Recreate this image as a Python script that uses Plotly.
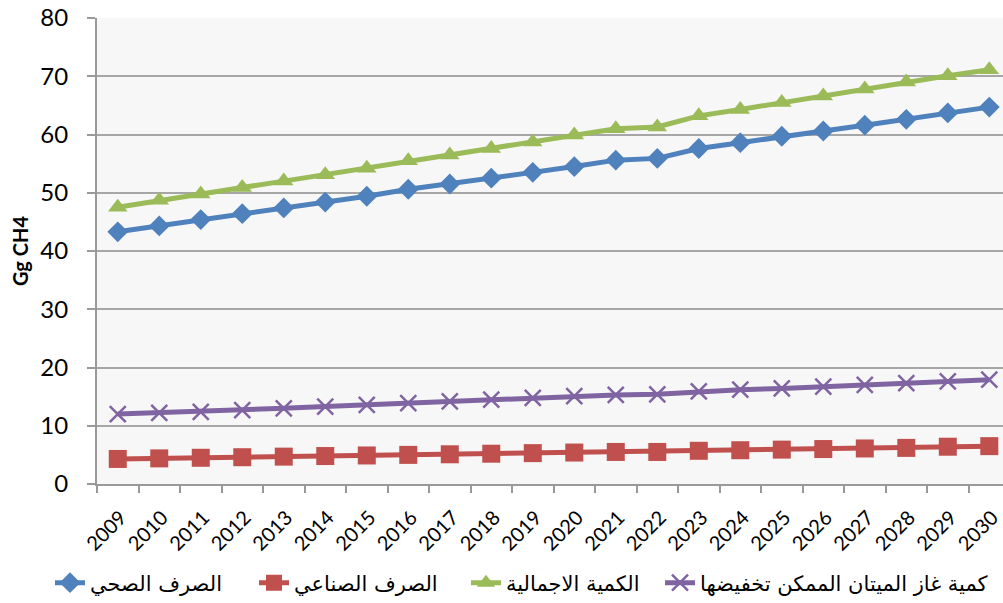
import plotly.graph_objects as go

years = [str(y) for y in range(2009, 2031)]
sanitation = [43.3, 44.3, 45.4, 46.4, 47.4, 48.4, 49.4, 50.6, 51.5, 52.5, 53.5,
              54.5, 55.6, 55.9, 57.6, 58.6, 59.7, 60.6, 61.6, 62.6, 63.7, 64.7]
industrial = [4.3, 4.4, 4.5, 4.6, 4.7, 4.8, 4.9, 5.0, 5.1, 5.2, 5.3,
              5.4, 5.5, 5.5, 5.7, 5.8, 5.9, 6.0, 6.1, 6.2, 6.4, 6.5]
total = [47.5, 48.7, 49.8, 50.9, 52.0, 53.1, 54.2, 55.5, 56.5, 57.6, 58.7,
         59.9, 61.0, 61.3, 63.2, 64.3, 65.5, 66.6, 67.8, 69.0, 70.1, 71.1]
reducible = [12.0, 12.2, 12.4, 12.7, 13.0, 13.3, 13.6, 13.9, 14.2, 14.5, 14.8,
             15.1, 15.3, 15.4, 15.9, 16.2, 16.4, 16.7, 17.0, 17.3, 17.6, 17.9]

names = ["الصرف الصحي", "الصرف الصناعي", "الكمية الاجمالية", "كمية غاز الميتان الممكن تخفيضها"]

fig = go.Figure()
fig.add_trace(go.Scatter(x=years, y=sanitation, name=names[0], mode="lines+markers",
                         legend="legend",
                         line=dict(color="#4f81bd", width=5),
                         marker=dict(symbol="diamond", size=16, color="#4f81bd")))
fig.add_trace(go.Scatter(x=years, y=industrial, name=names[1], mode="lines+markers",
                         legend="legend2",
                         line=dict(color="#c0504d", width=5),
                         marker=dict(symbol="square", size=18, color="#c0504d")))
fig.add_trace(go.Scatter(x=years, y=total, name=names[2], mode="lines+markers",
                         legend="legend3",
                         line=dict(color="#9bbb59", width=5),
                         marker=dict(symbol="triangle-up", size=17, color="#9bbb59")))
fig.add_trace(go.Scatter(x=years, y=reducible, name=names[3], mode="lines+markers",
                         legend="legend4",
                         line=dict(color="#8064a2", width=5),
                         marker=dict(symbol="x-thin", size=16, color="#8064a2",
                                     line=dict(color="#8064a2", width=2.5))))

W, H = 1003, 603
leg_common = dict(orientation="h", xref="container", yref="container",
                  xanchor="left", yanchor="middle", y=1 - 583 / H,
                  font=dict(family="DejaVu Sans", size=21),
                  bgcolor="rgba(0,0,0,0)")
leg_x = [50, 254, 466, 660]

fig.update_layout(
    width=W, height=H,
    margin=dict(l=97, r=0, t=18, b=119),
    paper_bgcolor="white", plot_bgcolor="#f7f7f7",
    font=dict(family="Lato", color="black"),
    showlegend=True,
    legend=dict(leg_common, x=leg_x[0] / W),
    legend2=dict(leg_common, x=leg_x[1] / W),
    legend3=dict(leg_common, x=leg_x[2] / W),
    legend4=dict(leg_common, x=leg_x[3] / W),
)
fig.update_xaxes(type="category", range=[-0.5, 21.33], tickson="boundaries",
                 ticks="outside", ticklen=7, tickcolor="#999999", tickwidth=1.5,
                 showline=True, linecolor="#999999", linewidth=2,
                 showgrid=False, tickangle=-45, tickfont=dict(size=20),
                 ticklabelstandoff=12, ticklabelshift=3)
fig.update_yaxes(range=[0, 80], dtick=10, ticks="outside", ticklen=8,
                 tickcolor="#999999", tickwidth=1.5,
                 showline=True, linecolor="#999999", linewidth=2,
                 showgrid=True, gridcolor="#a6a6a6", gridwidth=1.5,
                 zeroline=False, tickfont=dict(size=24), ticklabelstandoff=14,
                 title=dict(text="<b>Gg CH4</b>", font=dict(size=20), standoff=6))

fig.write_html("out.html")
